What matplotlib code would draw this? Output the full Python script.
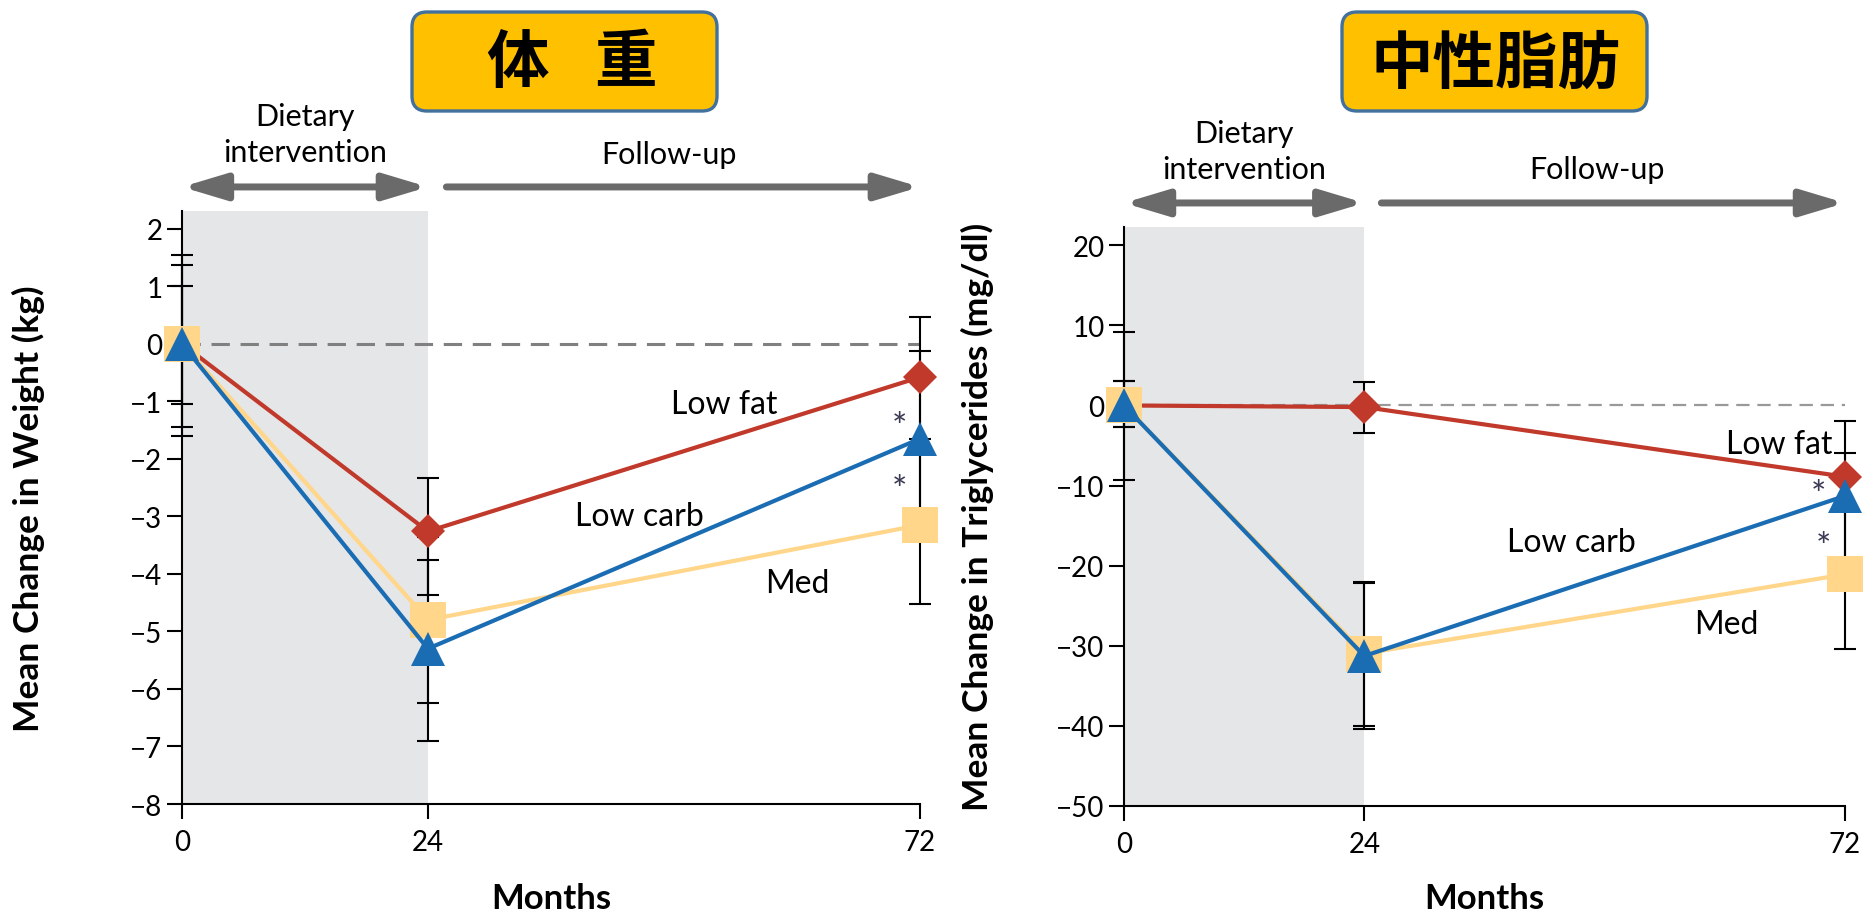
import matplotlib
matplotlib.use("Agg")
from matplotlib import pyplot as plt
import matplotlib.patches as mpatches
from matplotlib.transforms import blended_transform_factory
import numpy as np

plt.rcParams['font.family'] = ['Lato', 'DejaVu Sans']
plt.rcParams['axes.unicode_minus'] = True

months = [0, 24, 72]
series_names = ["Low fat", "Low carb", "Med"]

# weight change (kg), means and CI bounds per month
weight_low_fat = [0, -3.26, -0.58]
weight_low_carb = [0, -5.30, -1.65]
weight_med = [0, -4.80, -3.15]
weight_low_fat_lo = [-1.04, -4.37, -1.66]
weight_low_fat_hi = [1.01, -2.33, 0.47]
weight_low_carb_lo = [-1.45, -6.91, -3.30]
weight_low_carb_hi = [1.55, -3.76, -0.12]
weight_med_lo = [-1.61, -6.25, -4.52]
weight_med_hi = [1.37, -3.35, -1.80]
weight_yticks = [-8, -7, -6, -5, -4, -3, -2, -1, 0, 1, 2]

# triglyceride change (mg/dl)
tg_low_fat = [0, -0.2, -8.9]
tg_low_carb = [0, -31.3, -11.3]
tg_med = [0, -31.0, -21.1]
tg_low_fat_lo = [-2.7, -3.5, -13.0]
tg_low_fat_hi = [3.1, 2.9, -2.0]
tg_low_carb_lo = [-2.7, -40.4, -19.5]
tg_low_carb_hi = [3.1, -22.2, -6.0]
tg_med_lo = [-9.3, -40.0, -30.4]
tg_med_hi = [9.2, -22.0, -12.5]
tg_yticks = [-50, -40, -30, -20, -10, 0, 10, 20]

RED = "#C0392B"
BLUE = "#1B6DB3"
YELLOW = "#FFD68A"
SHADE = "#E5E6E8"
ARROW = "#6A6A6A"
STAR = "#3a3a55"


def draw_panel(ax, means, lows, highs, ylim, yticks, ylabel, label_xy, stars,
               dash_color, dash_lw):
    ax.set_xlim(0, 72)
    ax.set_ylim(*ylim)
    ax.axvspan(0, 24, color=SHADE, lw=0, zorder=0)
    ax.plot([0, 72], [0, 0], color=dash_color, lw=dash_lw,
            ls=(0, (6, 3.5)), zorder=1, clip_on=False)

    # error bars first so the markers sit on top of the caps
    for vals, lo, hi in zip(means, lows, highs):
        vals = np.array(vals)
        yerr = [vals - np.array(lo), np.array(hi) - vals]
        eb = ax.errorbar(months, vals, yerr=yerr, fmt='none', ecolor='black',
                         elinewidth=1.5, capsize=8, capthick=1.5, zorder=2)
        for art in list(eb.lines[1]) + list(eb.lines[2]):
            art.set_clip_on(False)

    styles = [(RED, 'D', 17.5, 3), (YELLOW, 's', 25.5, 4), (BLUE, '^', 24, 5)]
    order = [0, 2, 1]
    for idx, (color, marker, ms, z) in zip(order, styles):
        ax.plot(months, means[idx], color=color, lw=3, marker=marker, ms=ms,
                mec=color, mew=0, zorder=z, clip_on=False)

    for name, (x, y) in zip(series_names, label_xy):
        ax.text(x, y, name, fontsize=23, ha='center', va='center', zorder=6)
    for x, y in stars:
        ax.text(x, y, "*", fontsize=26, ha='center', va='center',
                color=STAR, zorder=6)

    ax.set_xticks(months)
    ax.set_yticks(yticks)
    ax.spines['top'].set_visible(False)
    ax.spines['right'].set_visible(False)
    for s in ['left', 'bottom']:
        ax.spines[s].set_linewidth(1.5)
    ax.tick_params(axis='both', length=11, width=1.5, labelsize=20)
    ax.tick_params(axis='y', pad=3)
    ax.tick_params(axis='x', pad=7)

    ax.set_ylabel(ylabel, fontsize=25.5, fontweight='bold')
    ax.set_xlabel("Months", fontsize=25, fontweight='bold')


def draw_phase_arrows(ax, y_arrow, y_diet, y_follow, x_follow_start, x_follow_text):
    trans = blended_transform_factory(ax.transData, ax.transAxes)
    head = 'head_length=1.2,head_width=0.36'
    double = mpatches.FancyArrowPatch((0, y_arrow), (24, y_arrow), transform=trans,
                                      arrowstyle='<|-|>,' + head,
                                      mutation_scale=22, lw=5, color=ARROW,
                                      shrinkA=0, shrinkB=0, clip_on=False)
    single = mpatches.FancyArrowPatch((x_follow_start, y_arrow), (72, y_arrow),
                                      transform=trans, arrowstyle='-|>,' + head,
                                      mutation_scale=22, lw=5, color=ARROW,
                                      shrinkA=0, shrinkB=0, clip_on=False)
    ax.add_patch(double)
    ax.add_patch(single)
    ax.text(12, y_diet, "Dietary\nintervention", transform=trans, fontsize=22,
            ha='center', va='center', linespacing=1.35)
    ax.text(x_follow_text, y_follow, "Follow-up", transform=trans, fontsize=22,
            ha='center', va='center')


def title_box(fig, x, w, chars, char_x):
    box = mpatches.FancyBboxPatch((x, 8.08), w, 0.99,
                                  boxstyle="round,pad=0,rounding_size=0.15",
                                  transform=fig.dpi_scale_trans,
                                  facecolor="#FFC000", edgecolor="#41719C", lw=2.4)
    fig.patches.append(box)
    for c, cx in zip(chars, char_x):
        fig.text(cx, 8.56, c, transform=fig.dpi_scale_trans, ha='center', va='center',
                 fontsize=45, fontweight='bold', family=['Noto Sans CJK JP', 'DejaVu Sans'])


fig = plt.figure(figsize=(18.64, 9.2), dpi=100)
ax1 = fig.add_axes([0.0976, 0.125, 0.3959, 0.6446])
ax2 = fig.add_axes([0.6030, 0.1232, 0.3868, 0.6290])

draw_panel(ax1,
           [weight_low_fat, weight_low_carb, weight_med],
           [weight_low_fat_lo, weight_low_carb_lo, weight_med_lo],
           [weight_low_fat_hi, weight_low_carb_hi, weight_med_hi],
           (-8, 2.31), weight_yticks, "Mean Change in Weight (kg)",
           [(52.9, -1.04), (44.6, -3.0), (60.0, -4.16)],
           [(70.0, -1.45), (70.0, -2.55)],
           "#808080", 2.2)
ax1.yaxis.set_label_coords(-0.186, 0.5)
ax1.xaxis.set_label_coords(0.5, -0.131)
draw_phase_arrows(ax1, 1.0405, 1.13, 1.096, 25.8, 47.5)

draw_panel(ax2,
           [tg_low_fat, tg_low_carb, tg_med],
           [tg_low_fat_lo, tg_low_carb_lo, tg_med_lo],
           [tg_low_fat_hi, tg_low_carb_hi, tg_med_hi],
           (-50, 22.3), tg_yticks, "Mean Change in Triglycerides (mg/dl)",
           [(65.4, -4.8), (44.7, -17.0), (60.1, -27.3)],
           [(69.4, -11.3), (69.9, -17.7)],
           "#999999", 1.6)
ax2.yaxis.set_label_coords(-0.18, 0.5)
ax2.xaxis.set_label_coords(0.5, -0.132)
draw_phase_arrows(ax2, 1.0415, 1.132, 1.10, 25.7, 47.2)

title_box(fig, 4.12, 3.05, ["体", "重"], [5.17, 6.25])
title_box(fig, 13.42, 3.05, ["中性脂肪"], [14.95])

fig.savefig("out.png", dpi=100)
